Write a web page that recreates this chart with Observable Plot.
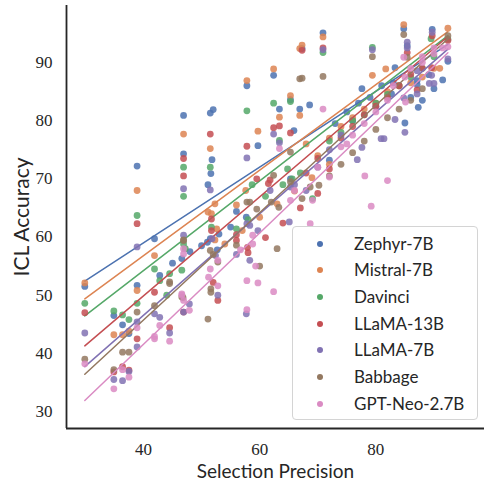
<!DOCTYPE html>
<html><head><meta charset="utf-8">
<script src="https://cdn.jsdelivr.net/npm/d3@7"></script>
<script src="https://cdn.jsdelivr.net/npm/@observablehq/plot@0.6"></script>
<style>
body{margin:0;background:#fff;}
#wrap{position:relative;width:484px;height:485px;overflow:hidden;}
#legend{position:absolute;left:292px;top:226px;width:186px;height:194px;box-sizing:border-box;border:1px solid #d4d4d4;border-radius:4px;background:rgba(255,255,255,0.82);font-family:Lato,'Noto Sans',sans-serif;font-size:17px;color:#262626;}
.row{position:absolute;left:0;height:20px;line-height:20px;}
.sw{position:absolute;left:24px;top:7px;width:6px;height:6px;border-radius:50%;}
.lab{position:absolute;left:61px;white-space:nowrap;}
</style></head>
<body><div id="wrap"></div>
<script>
const models = ["Zephyr-7B","Mistral-7B","Davinci","LLaMA-13B","LLaMA-7B","Babbage","GPT-Neo-2.7B"];
const colors = ["#4C72B0","#DD8452","#55A868","#C44E52","#8172B3","#937860","#DA8BC3"];
const xTicks = [40,60,80];
const yTicks = [30,40,50,60,70,80,90];

const zephyr = [[29.9,51.5],[34.9,46.5],[36.4,44.9],[37.5,43.4],[38.9,72.2],[38.9,51.7],[41.9,59.7],[42.8,53.4],[46.9,80.9],[46.9,74.3],[46.6,56.3],[51.5,81.3],[52,81.9],[51.8,73.3],[51.6,70.9],[51.1,69.0],[51.0,59.1],[51.5,59.7],[52.7,57.8],[57.8,86.0],[59.7,75.7],[57.7,63.4],[56,64.4],[62.4,87.8],[63.4,82.0],[65.3,83.6],[65.9,78.3],[65.3,70.0],[66.9,82.0],[67.3,92.4],[68.6,82.7],[70.9,95.1],[72.0,73.2],[77.6,85.5],[83.3,89.1],[85.0,79.6],[84.8,95.8],[85.4,92.9],[87.1,86.9],[87.1,86.2],[87.3,82.3],[89.1,87.9],[89.7,95.7],[92.4,90.2],[82.7,84.6],[73,79.5],[75,81.5],[77,83],[79,84],[81,86],[83,86.5],[86,84],[88,83.5],[90,85.5],[91.5,87],[76,80],[80,82.5],[45,55.5],[48,57.5],[50,58.5],[53,60.5],[55,61.7]];
const mistral = [[29.9,52.1],[34.9,43.2],[36.4,43.2],[37.5,43.8],[38.9,68.0],[38.9,50.8],[41.9,56.8],[46.9,77.7],[51.5,75.2],[52.3,65.7],[51.1,64.3],[51.7,64.0],[52.6,61.4],[52.3,59.5],[56,65.5],[57.8,86.9],[57.6,68.0],[59.7,78.2],[62.4,88.9],[63.4,80.6],[65.3,84.3],[66.9,92.4],[66.9,80.9],[67.3,93.0],[70.9,94.4],[79.4,87.8],[81.7,88.9],[84.8,96.5],[92.4,95.9],[68,76],[70,74],[72,77],[74,79],[76,80.5],[78,82],[80,83],[82,85],[84,86],[86,86.5],[88,87.5],[90,89],[91,89],[54,58.8],[57,61.1],[60,63.4],[63,65.7],[66,67.9],[69,70.2],[72,72.5]];
const davinci = [[29.9,48.6],[34.9,47.3],[36.4,46.6],[37.5,45.8],[38.9,63.7],[38.9,48.6],[41.9,54.5],[42.8,52.5],[44.5,53.7],[46.9,72.0],[46.9,67.0],[46.6,54.3],[47.2,58.0],[46.9,58.8],[51.5,72.0],[51.7,61.7],[57.8,81.7],[56,61.4],[62.4,83.0],[63.4,76.6],[65.3,83.3],[64.8,71.7],[65.6,70.0],[69.1,66.6],[70.9,91.7],[79.4,92.6],[89.5,94.1],[58.7,69.0],[58,63],[61,67],[64,69],[67,71],[72,76.5],[74,78],[76,80],[78,81],[80,83],[82,84.5],[84,86],[86,87.5],[88,89],[90,91],[92.4,94],[44,50]];
const llama13 = [[29.9,47.0],[34.9,36.8],[36.4,37.7],[37.5,37.1],[38.9,62.3],[38.9,42.5],[41.9,50.5],[44.5,44.4],[46.9,73.5],[46.9,70.5],[46.9,47.1],[51.5,77.7],[51.7,63.1],[51.7,61.1],[56,60.4],[56,59.4],[57.8,75.6],[57.9,58.2],[52.8,49.1],[59.5,70.0],[62.4,78.8],[63.4,79.1],[61.8,69.8],[61.5,69.2],[65.3,77.9],[67.3,92.1],[70.9,92.5],[72.0,71.7],[85.4,91.7],[87.1,85.3],[89.7,94.6],[89.6,89.1],[92.4,93.8],[68,71],[70,73.5],[74,77],[76,79],[78,81],[80,82.5],[82,84],[84,86],[86,88],[88,89],[52,52.2],[58,57.3],[61,59.9],[64,62.4],[67,65],[70,67.5]];
const llama7 = [[29.9,43.5],[34.9,35.5],[36.4,35.3],[37.5,36.9],[38.9,58.3],[38.9,45.4],[38.9,41.1],[41.9,46.8],[42.8,46.2],[44.5,43.5],[46.9,68.3],[46.9,60.3],[46.9,47.1],[47.9,48.5],[51.5,68.1],[51.8,59.7],[52.4,56.8],[52.8,50.0],[57.8,73.6],[56,57.0],[57.8,62.3],[58.3,62.0],[59.7,61.1],[58.3,56.0],[57.7,46.8],[62.4,77.7],[61.8,68.0],[63.4,76.2],[65.3,68.6],[66,69],[65.1,62.6],[70.9,92.2],[76.8,73.3],[77.6,75.4],[79.4,92.2],[80.9,76.9],[81.4,76.9],[83.3,80.2],[85.4,93.5],[85.4,92.5],[85.0,78.0],[84.8,83.9],[87.1,88.6],[87.1,84.6],[89.6,87.8],[89.2,86.4],[90,86.4],[89.7,95.2],[92.4,90.6],[68,68],[70,72],[72,75],[74,77.5]];
const babbage = [[29.9,39.0],[34.9,37.2],[36.4,40.2],[37.5,40.2],[38.9,47.1],[41.9,48.2],[44.5,52.3],[44.5,52.0],[46.9,59.5],[46.9,59.4],[46.8,49.6],[46.6,49.7],[51.5,57.7],[52,57],[52.8,55.7],[51.6,51.1],[51.6,50.5],[51.1,45.9],[56,58.6],[57.8,66.0],[58.3,66.0],[59.5,64.8],[62.4,70.6],[62,66.0],[63.3,65.1],[65.3,74.6],[65.3,69.5],[66.9,87.2],[67.3,87.3],[67.3,66.6],[68.7,68.6],[70.2,68.9],[70.9,87.6],[79.4,91.0],[84.8,94.8],[85.4,90.9],[92.4,94.6],[72,70.5],[74,72.5],[76,74.5],[78,76.5],[80,78.5],[82,80.5],[84,82],[86,83.5],[88,85.5],[60,55],[63,58]];
const gptneo = [[29.9,38.2],[34.9,33.9],[36.4,37.2],[37.5,35.9],[38.9,44.4],[41.9,42.5],[41.9,42.9],[42.8,44.8],[44.5,42.1],[46.9,57.1],[46.9,58.0],[46.6,50.0],[46.9,49.1],[46.6,50.2],[47.9,47.4],[52.8,51.6],[52.8,56.0],[51.5,54.5],[51.2,53.1],[56.7,57.8],[57.8,52.5],[57.8,47.5],[58.8,60.3],[58.8,58.8],[59.3,55.0],[59.7,52.1],[62.4,50.6],[63.4,75.2],[65.3,66.3],[69.1,66.3],[68.7,62.3],[70.9,82.0],[72.0,70.3],[78.1,70.5],[79.2,65.3],[82.0,69.7],[84.8,90.9],[85.1,83.2],[92.4,92.7],[74,75.5],[76,77.5],[78,79.5],[80,81.5],[82,83.5],[86,89],[88,91],[90,92.5],[83,86],[85,87.5],[88,90],[90,91.5],[91.5,92.5],[66,68],[70,72],[75,76]];

const series = [zephyr, mistral, davinci, llama13, llama7, babbage, gptneo];
const data = series.flatMap((pts, i) => pts.map(([x, y]) => ({model: models[i], x, y})));

const xDomain = [26.75, 98.7];
const yDomain = [27.08, 99.8];
const marks = [];
models.forEach((m) => {
  const sub = data.filter(d => d.model === m);
  marks.push(Plot.dot(sub, {x: "x", y: "y", fill: "model", r: 3.4, fillOpacity: 0.85, stroke: "none"}));
  marks.push(Plot.linearRegressionY(sub, {x: "x", y: "y", stroke: "model", ci: 0, strokeWidth: 1.5}));
});

const chart = Plot.plot({
  width: 484, height: 485,
  marginLeft: 66, marginRight: 0, marginTop: 5, marginBottom: 57,
  style: {background: "#fff", color: "#262626"},
  x: {domain: xDomain},
  y: {domain: yDomain},
  color: {domain: models, range: colors},
  marks: [
    ...marks,
    Plot.axisX({ticks: xTicks, tickSize: 0, tickPadding: 14, fontSize: 17, fontFamily: "'Liberation Serif', serif",
      label: "Selection Precision", labelAnchor: "center", labelArrow: "none", labelOffset: 49}),
    Plot.axisY({ticks: yTicks, tickSize: 0, tickPadding: 14, fontSize: 17, fontFamily: "'Liberation Serif', serif",
      label: "ICL Accuracy", labelAnchor: "center", labelArrow: "none", labelOffset: 52}),
    Plot.ruleX([xDomain[0]], {stroke: "#262626", strokeWidth: 1.8}),
    Plot.ruleY([yDomain[0]], {stroke: "#262626", strokeWidth: 1.8})
  ]
});
chart.querySelectorAll("g[aria-label='x-axis label'] text").forEach(t => {
  t.setAttribute("font-family", "Lato, 'Noto Sans', sans-serif"); t.setAttribute("font-size", "19");
});
chart.querySelectorAll("g[aria-label='y-axis label'] text").forEach(t => {
  t.setAttribute("font-family", "Lato, 'Noto Sans', sans-serif"); t.setAttribute("font-size", "21");
});
const wrap = document.getElementById("wrap");
wrap.appendChild(chart);

const legend = document.createElement("div");
legend.id = "legend";
const rowCenters = [16.7, 43.3, 70, 96.7, 123.3, 150, 176.7];
models.forEach((m, i) => {
  const row = document.createElement("div");
  row.className = "row";
  row.style.top = (rowCenters[i] - 10) + "px";
  row.style.width = "100%";
  const sw = document.createElement("span"); sw.className = "sw"; sw.style.background = colors[i];
  const lab = document.createElement("span"); lab.className = "lab"; lab.textContent = m;
  row.appendChild(sw); row.appendChild(lab); legend.appendChild(row);
});
wrap.appendChild(legend);
</script></body></html>
